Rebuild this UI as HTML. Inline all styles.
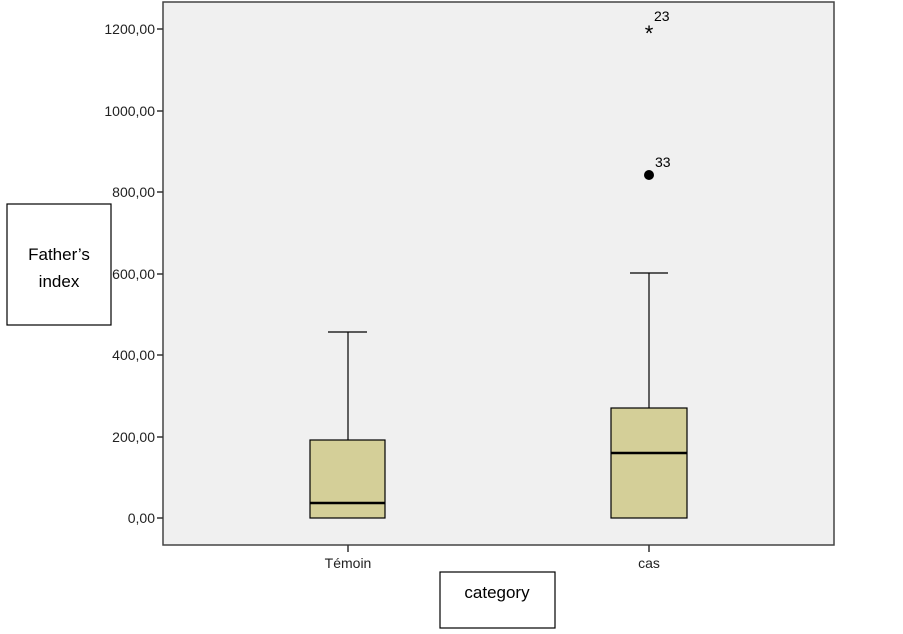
<!DOCTYPE html>
<html><head><meta charset="utf-8"><style>body{margin:0;background:#fff}</style></head><body>
<svg width="903" height="629" xmlns="http://www.w3.org/2000/svg" font-family="Liberation Sans, Arial, sans-serif">
<rect x="163" y="2" width="671" height="543" fill="#f0f0f0" stroke="#444" stroke-width="1.5"/>
<g stroke="#333" stroke-width="1.5">
<line x1="157" y1="29" x2="163" y2="29"/><line x1="157" y1="111" x2="163" y2="111"/>
<line x1="157" y1="192" x2="163" y2="192"/><line x1="157" y1="274" x2="163" y2="274"/>
<line x1="157" y1="355" x2="163" y2="355"/><line x1="157" y1="437" x2="163" y2="437"/>
<line x1="157" y1="518" x2="163" y2="518"/>
<line x1="348" y1="545" x2="348" y2="552"/><line x1="649" y1="545" x2="649" y2="552"/>
</g>
<g font-size="14" text-anchor="end" fill="#222">
<text x="155" y="34">1200,00</text><text x="155" y="116">1000,00</text>
<text x="155" y="197">800,00</text><text x="155" y="279">600,00</text>
<text x="155" y="360">400,00</text><text x="155" y="442">200,00</text>
<text x="155" y="523">0,00</text>
</g>
<g font-size="14" text-anchor="middle" fill="#222">
<text x="348" y="568">Témoin</text><text x="649" y="568">cas</text>
</g>
<g stroke="#000" stroke-width="1.2">
<line x1="348" y1="332" x2="348" y2="440"/><line x1="328" y1="332" x2="367" y2="332"/>
<rect x="310" y="440" width="75" height="78" fill="#d4cf98"/>
<line x1="310" y1="503" x2="385" y2="503" stroke-width="2.5"/>
<line x1="649" y1="273" x2="649" y2="408"/><line x1="630" y1="273" x2="668" y2="273"/>
<rect x="611" y="408" width="76" height="110" fill="#d4cf98"/>
<line x1="611" y1="453" x2="687" y2="453" stroke-width="2.5"/>
</g>
<circle cx="649" cy="175" r="5" fill="#000"/>
<text x="649" y="41" font-size="22" text-anchor="middle">*</text>
<text x="654" y="21" font-size="14">23</text>
<text x="655" y="167" font-size="14">33</text>
<rect x="7" y="204" width="104" height="121" fill="#fff" stroke="#000" stroke-width="1.2"/>
<text x="59" y="260" font-size="17" text-anchor="middle">Father’s</text>
<text x="59" y="287" font-size="17" text-anchor="middle">index</text>
<rect x="440" y="572" width="115" height="56" fill="#fff" stroke="#000" stroke-width="1.2"/>
<text x="497" y="598" font-size="17" text-anchor="middle">category</text>
</svg>
</body></html>
